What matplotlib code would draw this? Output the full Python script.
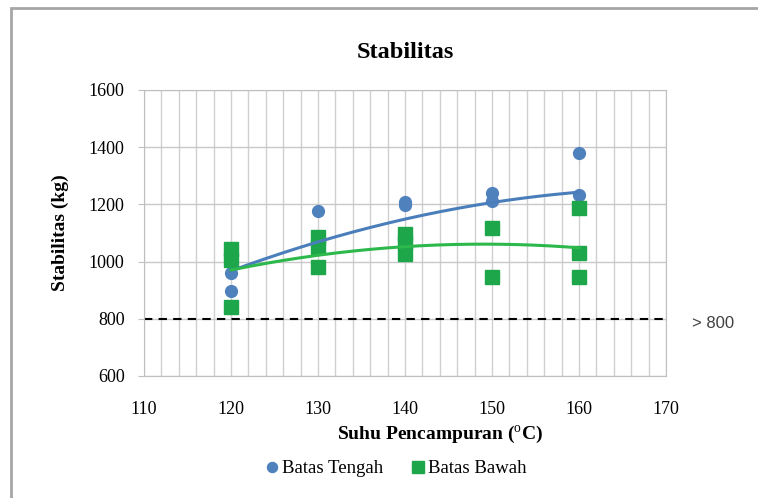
import numpy as np
import matplotlib.pyplot as plt
from matplotlib.patches import Rectangle

plt.rcParams['font.family'] = 'Liberation Serif'
plt.rcParams['mathtext.fontset'] = 'custom'
plt.rcParams['mathtext.rm'] = 'Liberation Serif'
plt.rcParams['mathtext.bf'] = 'Liberation Serif:bold'

# Batas Tengah (circles)
tengah_x = [120, 120, 130, 140, 140, 150, 150, 160, 160, 160]
tengah_y = [961, 898, 1177, 1198, 1208, 1240, 1212, 1381, 1233, 1188]

# Batas Bawah (squares)
bawah_x = [120, 120, 120, 130, 130, 130, 140, 140, 140, 150, 150, 160, 160, 160]
bawah_y = [1045, 1005, 842, 1085, 1050, 982, 1095, 1070, 1025, 1117, 947, 1187, 1031, 947]

# trend line readings (polynomial trend shown in the chart)
trend_x = [120, 130, 140, 150, 160]
trend_tengah = [968, 1068, 1148, 1208, 1242]
trend_bawah = [970, 1024, 1050, 1062, 1048]

batas_min = 800

blue = '#4F81BD'
green = '#1EA64A'

fig = plt.figure(figsize=(7.58, 4.98), dpi=100)
ax = fig.add_axes([0.190, 0.245, 0.6887, 0.5743])

# grid
ax.set_xlim(110, 170)
ax.set_ylim(600, 1600)
ax.set_xticks(range(110, 171, 10))
ax.set_xticks(range(110, 171, 2), minor=True)
ax.set_yticks(range(600, 1601, 200))
ax.grid(True, which='both', axis='x', color='#D0D0D0', linewidth=1)
ax.grid(True, which='major', axis='y', color='#C8C8C8', linewidth=1)
ax.set_axisbelow(True)
for s in ax.spines.values():
    s.set_color('#BFBFBF')
ax.tick_params(axis='x', which='both', length=0, labelsize=13, pad=18)
ax.tick_params(axis='y', length=4, color='#BFBFBF', labelsize=13, pad=10)

# minimum line
ax.axhline(batas_min, color='black', linestyle=(0, (4, 3)), linewidth=1.5, zorder=2)

# data
ax.plot(tengah_x, tengah_y, 'o', color=blue, markersize=8.5, label='Batas Tengah', zorder=3)
ax.plot(bawah_x, bawah_y, 's', color=green, markersize=9.5, label='Batas Bawah', zorder=3)

# polynomial trend lines
xs = np.linspace(120, 160, 200)
ct = np.polyfit(trend_x, trend_tengah, 2)
cb = np.polyfit(trend_x, trend_bawah, 2)
ax.plot(xs, np.polyval(ct, xs), color='#4A7EBB', linewidth=2.2, zorder=4)
ax.plot(xs, np.polyval(cb, xs), color='#2DB84C', linewidth=2.2, zorder=4)

ax.set_title('Stabilitas', fontsize=17.5, fontweight='bold', pad=23)
ax.set_xlabel(r'Suhu Pencampuran ($^{\mathrm{o}}$C)', fontsize=14, fontweight='bold', labelpad=3)
ax.xaxis.set_label_coords(0.567, -0.165)
ax.set_ylabel('Stabilitas (kg)', fontsize=14, fontweight='bold', labelpad=14)

leg = ax.legend(loc='upper center', bbox_to_anchor=(0.48, -0.235), ncol=2, frameon=False,
                fontsize=13.5, handletextpad=0.0, columnspacing=1.4, handlelength=1.0,
                markerscale=0.85)

fig.text(692 / 758, 1 - 323 / 498, '> 800', fontsize=12, family='Liberation Sans',
         color='#404040', va='center', ha='left')

# chart frame
fig.patches.append(Rectangle((11 / 758, -0.05), 1.0, 1 - 8 / 498 + 0.05, transform=fig.transFigure,
                             fill=False, edgecolor='#A6A6A6', linewidth=2))

fig.savefig('out.png', dpi=100)
